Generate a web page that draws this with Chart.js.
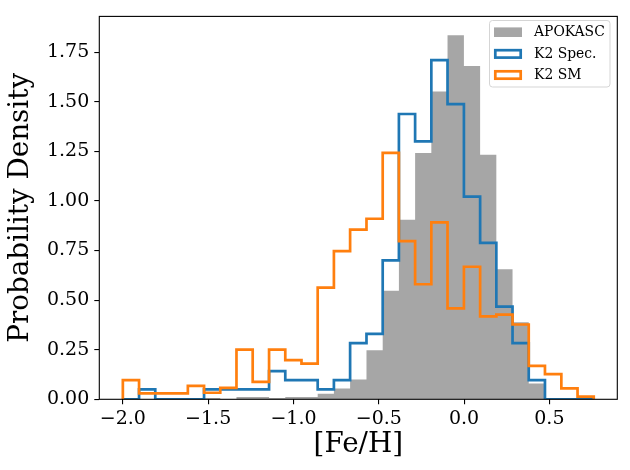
<!DOCTYPE html>
<html lang="en">
<head>
  <meta charset="UTF-8">
  <title>[Fe/H] distribution</title>
  <style>
    body {
      margin: 0;
      background: #ffffff;
    }
    #myChart {
      display: block;
    }
  </style>
  <script src="https://cdn.jsdelivr.net/npm/chart.js"></script>
</head>
<body>

  <canvas id="myChart" width="630" height="470"></canvas>

  <script>
    // Histogram bin edges ([Fe/H]) shared by the three samples
    const binEdges = [-2.000, -1.905, -1.810, -1.714, -1.619, -1.524, -1.429, -1.334, -1.239, -1.143,
                      -1.048, -0.953, -0.858, -0.763, -0.668, -0.572, -0.477, -0.382, -0.287, -0.192,
                      -0.097, -0.001, 0.094, 0.189, 0.284, 0.379, 0.474, 0.570, 0.665, 0.760];

    // Probability density per bin
    const apokasc = [0, 0, 0, 0, 0, 0.006, 0, 0.012, 0.012, 0.006,
                     0.012, 0.012, 0.028, 0.055, 0.100, 0.247, 0.547, 0.905, 1.242, 1.552,
                     1.835, 1.680, 1.233, 0.655, 0.388, 0.080, 0, 0, 0];
    const k2Spec = [0, 0.050, 0, 0, 0, 0.050, 0.050, 0.050, 0.050, 0.142,
                    0.097, 0.097, 0.050, 0.097, 0.283, 0.330, 0.700, 1.438, 1.300, 1.710,
                    1.488, 1.022, 0.788, 0.467, 0.283, 0.097, 0, 0, 0];
    const k2SM = [0.097, 0.030, 0.030, 0.030, 0.068, 0.033, 0.058, 0.250, 0.088, 0.250,
                  0.197, 0.180, 0.563, 0.747, 0.855, 0.910, 1.242, 0.797, 0.580, 0.892,
                  0.458, 0.668, 0.418, 0.427, 0.377, 0.168, 0.127, 0.055, 0.013];

    const seriesNames = ['APOKASC', 'K2 Spec.', 'K2 SM'];
    const xTicks = [-2.0, -1.5, -1.0, -0.5, 0.0, 0.5];
    const yTicks = [0, 0.25, 0.5, 0.75, 1.0, 1.25, 1.5, 1.75];

    const serif = "'DejaVu Serif', 'Liberation Serif', serif";
    Chart.defaults.color = '#000';
    Chart.defaults.font.family = serif;

    // turn bin edges + heights into a closed step outline
    function stepPoints(edges, values) {
      const pts = [{ x: edges[0], y: 0 }];
      values.forEach((v, i) => pts.push({ x: edges[i], y: v }));
      pts.push({ x: edges[edges.length - 1], y: 0 });
      return pts;
    }

    function minusSign(v, digits) {
      return v.toFixed(digits).replace('-', '\u2212');
    }

    // matplotlib-like frame + legend
    const framePlugin = {
      id: 'frame',
      afterDraw(chart) {
        const ctx = chart.ctx;
        const a = chart.chartArea;
        ctx.save();
        ctx.strokeStyle = '#000';
        ctx.lineWidth = 1.1;
        ctx.strokeRect(a.left, a.top, a.right - a.left, a.bottom - a.top);

        // legend box
        const bx = 489.5, by = 20.5, bw = 120.5, bh = 66.5;
        ctx.beginPath();
        ctx.roundRect(bx, by, bw, bh, 3);
        ctx.fillStyle = 'rgba(255,255,255,0.8)';
        ctx.fill();
        ctx.strokeStyle = '#d5d5d5';
        ctx.lineWidth = 1;
        ctx.stroke();

        const rows = [32.2, 53.8, 74.9];
        chart.data.datasets.forEach((ds, i) => {
          const cy = rows[i];
          if (i === 0) {
            ctx.fillStyle = ds.backgroundColor;
            ctx.fillRect(494, cy - 4.8, 28, 9.6);
          } else {
            ctx.strokeStyle = ds.borderColor;
            ctx.lineWidth = 2.7;
            ctx.strokeRect(495.3, cy - 3.6, 25.4, 7.4);
          }
          ctx.fillStyle = '#000';
          ctx.font = '13.9px ' + serif;
          ctx.textBaseline = 'middle';
          ctx.textAlign = 'left';
          ctx.fillText(ds.label, 534, cy + 0.5);
        });
        ctx.restore();
      }
    };

    const ctx = document.getElementById('myChart').getContext('2d');

    new Chart(ctx, {
      type: 'line',
      data: {
        datasets: [{
          label: seriesNames[0],
          data: stepPoints(binEdges, apokasc),
          stepped: 'before',
          borderWidth: 0,
          borderColor: 'rgba(0,0,0,0)',
          backgroundColor: '#a6a6a6',
          fill: 'origin',
          pointRadius: 0,
          order: 3
        }, {
          label: seriesNames[1],
          data: stepPoints(binEdges, k2Spec),
          stepped: 'before',
          borderWidth: 2.7,
          borderColor: '#1f77b4',
          backgroundColor: '#1f77b4',
          fill: false,
          pointRadius: 0,
          borderJoinStyle: 'miter',
          order: 2
        }, {
          label: seriesNames[2],
          data: stepPoints(binEdges, k2SM),
          stepped: 'before',
          borderWidth: 2.7,
          borderColor: '#ff7f0e',
          backgroundColor: '#ff7f0e',
          fill: false,
          pointRadius: 0,
          borderJoinStyle: 'miter',
          order: 1
        }]
      },
      options: {
        responsive: false,
        animation: false,
        devicePixelRatio: 1,
        layout: {
          padding: { left: 0, right: 12.7, top: 13.3, bottom: 0 }
        },
        plugins: {
          legend: { display: false },
          tooltip: { enabled: false }
        },
        scales: {
          x: {
            type: 'linear',
            min: -2.138,
            max: 0.898,
            afterFit: scale => { scale.height = 70.7; },
            afterBuildTicks: scale => { scale.ticks = xTicks.map(v => ({ value: v })); },
            ticks: {
              font: { size: 19, family: serif },
              padding: 3,
              maxRotation: 0,
              callback: v => minusSign(v, 1)
            },
            grid: {
              drawOnChartArea: false,
              drawTicks: true,
              tickLength: 5,
              color: '#000',
              lineWidth: 1.1
            },
            border: { display: false },
            title: {
              display: true,
              text: '[Fe/H]',
              font: { size: 27.8, family: serif },
              padding: { top: 0, bottom: 8.5 }
            }
          },
          y: {
            min: 0,
            max: 1.93,
            afterFit: scale => { scale.width = 99.3; },
            afterBuildTicks: scale => { scale.ticks = yTicks.map(v => ({ value: v })); },
            ticks: {
              font: { size: 19, family: serif },
              padding: 5,
              callback: v => minusSign(v, 2)
            },
            grid: {
              drawOnChartArea: false,
              drawTicks: true,
              tickLength: 5,
              color: '#000',
              lineWidth: 1.1
            },
            border: { display: false },
            title: {
              display: true,
              text: 'Probability Density',
              font: { size: 27.8, family: serif },
              padding: { top: 3.9, bottom: 0 }
            }
          }
        }
      },
      plugins: [framePlugin]
    });
  </script>

</body>
</html>
